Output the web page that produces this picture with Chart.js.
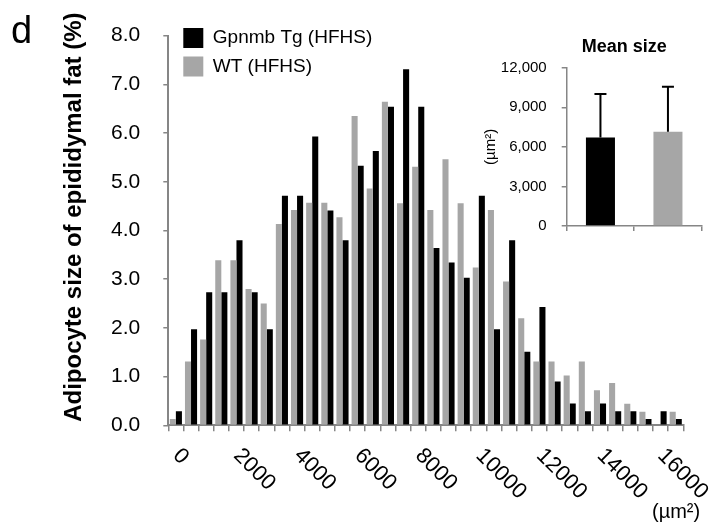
<!DOCTYPE html>
<html><head><meta charset="utf-8">
<script src="https://cdn.jsdelivr.net/npm/chart.js@4.4.1/dist/chart.umd.min.js"></script>
<style>
html,body{margin:0;padding:0;background:#fff;}
#wrap{position:relative;width:719px;height:526px;overflow:hidden;}
#main{position:absolute;left:0;top:0;}
#inset{position:absolute;left:470px;top:20px;}
</style></head>
<body><div id="wrap"><canvas id="main" width="719" height="526"></canvas><canvas id="inset" width="249" height="230"></canvas></div>
<script>
// ---- data ----
const binStarts = [0, 500, 1000, 1500, 2000, 2500, 3000, 3500, 4000, 4500, 5000, 5500,
  6000, 6500, 7000, 7500, 8000, 8500, 9000, 9500, 10000, 10500, 11000, 11500,
  12000, 12500, 13000, 13500, 14000, 14500, 15000, 15500, 16000, 16500];
const xTickLabels = ['0', '2000', '4000', '6000', '8000', '10000', '12000', '14000', '16000'];
const seriesNames = ['Gpnmb Tg (HFHS)', 'WT (HFHS)'];
const tgHFHS = [0.29, 1.97, 2.73, 2.73, 3.80, 2.73, 1.97, 4.71, 4.71, 5.93, 4.41, 3.80,
  5.33, 5.63, 6.54, 7.31, 6.54, 3.64, 3.34, 3.03, 4.71, 1.97, 3.80, 1.51,
  2.43, 0.90, 0.45, 0.29, 0.45, 0.29, 0.29, 0.13, 0.29, 0.13];
const wtHFHS = [0.13, 1.31, 1.76, 3.39, 3.39, 2.80, 2.50, 4.13, 4.42, 4.57, 4.57, 4.27,
  6.35, 4.86, 6.64, 4.56, 5.31, 4.42, 5.46, 4.56, 3.24, 4.42, 2.95, 2.20,
  1.31, 1.31, 1.02, 1.31, 0.72, 0.87, 0.44, 0.28, 0, 0.28];
const insetMeans = [6700, 7150];
const insetSD = [3300, 3400];

// ---- styling ----
Chart.defaults.font.family = "'Liberation Sans', Arial, sans-serif";
Chart.defaults.color = '#000';
const axisGray = '#868686';
const black = '#000000';
const gray = '#a6a6a6';

const legendShift = {
  id: 'legendShift',
  afterLayout(chart) {
    const lg = chart.legend;
    const ca = chart.chartArea;
    lg.left = ca.left + 6.5;
    lg.top = ca.top - 16;
  }
};

const mainText = {
  id: 'mainText',
  afterDraw(chart) {
    const ctx = chart.ctx;
    const xs = chart.scales.x;
    const baseY = chart.chartArea.bottom;
    ctx.save();
    ctx.fillStyle = '#000';
    ctx.font = "22px 'Liberation Sans', Arial, sans-serif";
    ctx.textAlign = 'left';
    ctx.textBaseline = 'middle';
    xTickLabels.forEach(lbl => {
      const idx = binStarts.indexOf(Number(lbl));
      const x = xs.getPixelForValue(idx);
      ctx.save();
      ctx.translate(x + 0.5, baseY + 27);
      ctx.rotate(Math.PI / 4);
      ctx.fillText(lbl, 0, 0);
      ctx.restore();
    });
    ctx.textBaseline = 'alphabetic';
    ctx.font = "20px 'Liberation Sans', Arial, sans-serif";
    ctx.fillText('(\u00b5m\u00b2)', 652, 518);
    ctx.font = "38px 'Liberation Sans', Arial, sans-serif";
    ctx.fillText('d', 11, 43);
    ctx.restore();
  }
};

new Chart(document.getElementById('main'), {
  type: 'bar',
  data: {
    labels: binStarts.map(String),
    datasets: [
      {label: seriesNames[1], data: wtHFHS, backgroundColor: gray, borderWidth: 0},
      {label: seriesNames[0], data: tgHFHS, backgroundColor: black, borderWidth: 0}
    ]
  },
  options: {
    responsive: false,
    animation: false,
    layout: {padding: {left: 50, right: 35.7, top: 33.3, bottom: 0}},
    datasets: {bar: {barPercentage: 1.0, categoryPercentage: 0.8}},
    plugins: {
      legend: {
        position: 'chartArea', align: 'start', reverse: true,
        labels: {boxWidth: 20, boxHeight: 20, padding: 8.5, font: {size: 19}, color: '#000'}
      },
      tooltip: {enabled: false},
      title: {display: false}
    },
    scales: {
      x: {
        grid: {display: true, drawOnChartArea: false, drawTicks: true, tickLength: 6, color: axisGray, lineWidth: 1.5, offset: true},
        border: {display: true, color: axisGray, width: 2},
        ticks: {display: false},
        afterFit: s => { s.height = 100.7; }
      },
      y: {
        min: 0, max: 8,
        ticks: {stepSize: 1, callback: v => Number(v).toFixed(1), font: {size: 21}, color: '#000', padding: 23},
        grid: {drawOnChartArea: false, drawTicks: true, tickLength: 5, color: axisGray, lineWidth: 1.5},
        border: {display: true, color: axisGray, width: 2},
        title: {
          display: true,
          text: '\u00a0\u00a0\u00a0\u00a0Adipocyte size of epididymal fat (%)',
          font: {size: 24, weight: 'bold'}, color: '#000',
          padding: {top: 10, bottom: 0}
        },
        afterFit: s => { s.width = 118.3; }
      }
    }
  },
  plugins: [legendShift, mainText]
});

// ---- inset ----
const errorBars = {
  id: 'errorBars',
  afterDatasetsDraw(chart) {
    const meta = chart.getDatasetMeta(0);
    const ys = chart.scales.y;
    const ctx = chart.ctx;
    ctx.save();
    ctx.strokeStyle = '#000';
    ctx.lineWidth = 2;
    meta.data.forEach((bar, i) => {
      const top = ys.getPixelForValue(insetMeans[i] + insetSD[i]);
      const base = ys.getPixelForValue(insetMeans[i]);
      ctx.beginPath();
      ctx.moveTo(bar.x, base);
      ctx.lineTo(bar.x, top);
      ctx.moveTo(bar.x - 6, top);
      ctx.lineTo(bar.x + 6, top);
      ctx.stroke();
    });
    ctx.restore();
  }
};

new Chart(document.getElementById('inset'), {
  type: 'bar',
  data: {
    labels: seriesNames,
    datasets: [{data: insetMeans, backgroundColor: [black, gray], borderWidth: 0}]
  },
  options: {
    responsive: false,
    animation: false,
    layout: {padding: {left: 10, right: 17.3, top: 0, bottom: 0}},
    datasets: {bar: {barPercentage: 0.43, categoryPercentage: 1.0}},
    plugins: {
      legend: {display: false},
      tooltip: {enabled: false},
      title: {
        display: true, fullSize: false,
        text: 'Mean size\u00a0\u00a0\u00a0\u00a0',
        color: '#000', font: {size: 18, weight: 'bold'},
        padding: {top: 15.9, bottom: 10.2}
      }
    },
    scales: {
      x: {
        grid: {display: true, drawOnChartArea: false, drawTicks: true, tickLength: 5, color: axisGray, lineWidth: 1.5, offset: true},
        border: {display: true, color: axisGray, width: 1.5},
        ticks: {display: false},
        afterFit: s => { s.height = 15.7; }
      },
      y: {
        min: 0, max: 12000,
        ticks: {stepSize: 3000, callback: v => Number(v).toLocaleString('en-US'), font: {size: 15}, color: '#000', padding: 15},
        grid: {drawOnChartArea: false, drawTicks: true, tickLength: 5, color: axisGray, lineWidth: 1.5},
        border: {display: true, color: axisGray, width: 1.5},
        title: {display: true, text: '(\u00b5m\u00b2)', font: {size: 15}, color: '#000', padding: {top: 1.5, bottom: 0}},
        afterFit: s => { s.width = 86.7; }
      }
    }
  },
  plugins: [errorBars]
});
</script>
</body></html>
